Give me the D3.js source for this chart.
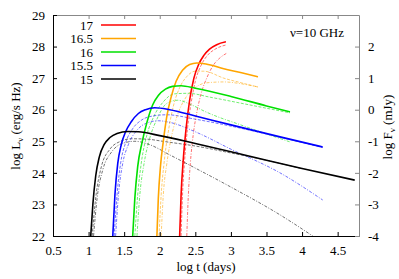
<!DOCTYPE html>
<meta charset="utf-8">
<style>
  body { margin: 0; background: #fff; }
</style>
<div id="chart"></div>
<script src="https://d3js.org/d3.v7.min.js"></script>
<script>
// legend / series labels (top to bottom)
var labels = ["17", "16.5", "16", "15.5", "15"];
var colors = ["#ff0000", "#ffa500", "#00e000", "#0000ff", "#000000"];

var xTicks = [0.5, 1, 1.5, 2, 2.5, 3, 3.5, 4, 4.5];
var yTicks = [22, 23, 24, 25, 26, 27, 28, 29];
var y2Ticks = [-4, -3, -2, -1, 0, 1, 2];

// solid curves: [log t, log L]
var solid17 = [[2.28,22],[2.3,23.3],[2.33,24.4],[2.37,25.4],[2.42,26.3],[2.48,27.0],[2.55,27.45],[2.62,27.72],[2.7,27.92],[2.8,28.06],[2.93,28.15]];
var solid165 = [[1.96,22],[1.98,23.2],[2.01,24.2],[2.05,25.0],[2.1,25.8],[2.16,26.4],[2.23,26.9],[2.32,27.25],[2.42,27.43],[2.52,27.48],[2.65,27.45],[2.9,27.3],[3.15,27.17],[3.38,27.04]];
var solid16 = [[1.62,22],[1.65,23.2],[1.69,24.2],[1.75,24.95],[1.82,25.6],[1.9,26.15],[1.98,26.45],[2.08,26.65],[2.18,26.74],[2.3,26.76],[2.5,26.68],[3.0,26.42],[3.5,26.12],[3.83,25.93]];
var solid155 = [[1.34,22],[1.37,23.3],[1.41,24.3],[1.46,24.9],[1.52,25.3],[1.6,25.62],[1.7,25.88],[1.8,26.0],[1.93,26.06],[2.14,26.0],[2.5,25.8],[3.0,25.52],[3.69,25.14],[4.29,24.82]];
var solid15 = [[1.03,22],[1.06,23],[1.1,23.9],[1.15,24.5],[1.22,24.9],[1.3,25.12],[1.4,25.25],[1.55,25.31],[1.7,25.3],[2.0,25.18],[2.5,24.93],[3.0,24.67],[3.5,24.4],[4.0,24.14],[4.74,23.77]];

// thin dashed variants
var dashA17 = [[2.3,22],[2.32,23.3],[2.35,24.4],[2.39,25.4],[2.44,26.2],[2.5,26.9],[2.58,27.4],[2.67,27.72],[2.78,27.92],[2.93,28.05]];
var dashB17 = [[2.38,22],[2.4,23.2],[2.43,24.3],[2.47,25.2],[2.52,25.9],[2.58,26.5],[2.66,27.0],[2.75,27.4],[2.85,27.65],[2.95,27.8]];
var dashA165 = [[1.99,22],[2.02,23.3],[2.06,24.3],[2.12,25.3],[2.19,26.1],[2.28,26.7],[2.38,27.05],[2.5,27.22],[2.62,27.22],[2.9,27.0],[3.15,26.85],[3.38,26.72]];
var dashB165 = [[2.02,22],[2.05,23.3],[2.1,24.3],[2.17,25.2],[2.26,25.9],[2.37,26.4],[2.5,26.7],[2.65,26.85],[2.9,26.88],[3.15,26.82],[3.38,26.72]];
var dashA16 = [[1.65,22],[1.69,23.3],[1.74,24.3],[1.82,25.2],[1.92,25.8],[2.05,26.25],[2.2,26.5],[2.4,26.52],[2.7,26.4],[3.2,26.18],[3.83,25.9]];
var dashB16 = [[1.68,22],[1.72,23.3],[1.78,24.3],[1.86,25.1],[1.96,25.7],[2.1,26.2],[2.25,26.3],[2.45,26.15],[2.63,25.95],[3.2,25.47],[3.83,24.98]];
var dashA155 = [[1.36,22],[1.4,23.3],[1.45,24.3],[1.52,24.95],[1.62,25.4],[1.75,25.68],[1.9,25.8],[2.1,25.84],[2.5,25.7],[3.0,25.48],[3.69,25.13],[4.29,24.8]];
var dashB155 = [[1.38,22],[1.42,23.3],[1.48,24.3],[1.56,24.9],[1.68,25.35],[1.82,25.58],[1.98,25.65],[2.14,25.6],[2.5,25.3],[3.0,24.75],[3.69,24.0],[4.29,23.14]];
var dashA15 = [[1.05,22],[1.1,23.2],[1.18,24.2],[1.3,24.75],[1.45,25.0],[1.6,25.08],[1.8,25.07],[2.1,24.98],[2.5,24.85],[3.0,24.63],[3.5,24.4],[4.0,24.13]];
var dashB15 = [[1.07,22],[1.12,23.2],[1.2,24.1],[1.32,24.65],[1.5,24.95],[1.65,25.0],[1.85,24.9],[2.14,24.57],[2.5,24.15],[3.0,23.55],[3.69,22.67],[4.15,22.0]];

var solids = [solid17, solid165, solid16, solid155, solid15];
var dashA = [dashA17, dashA165, dashA16, dashA155, dashA15];
var dashB = [dashB17, dashB165, dashB16, dashB155, dashB15];

var W = 399, H = 279;
var margin = {top: 15, right: 40, bottom: 43, left: 53};
var width = W - margin.left - margin.right, height = H - margin.top - margin.bottom;
var FONT = "'Liberation Serif', 'Times New Roman', serif";

var svg = d3.select("#chart").append("svg").attr("width", W).attr("height", H)
    .style("font-family", FONT).style("font-size", "13px");
var g = svg.append("g").attr("transform", "translate(" + margin.left + "," + margin.top + ")");

var x = d3.scaleLinear().domain([0.5, 4.8]).range([0, width]);
var y = d3.scaleLinear().domain([22, 29]).range([height, 0]);
var y2 = d3.scaleLinear().domain([-4, 3]).range([height, 0]);

g.append("clipPath").attr("id", "clip").append("rect").attr("width", width).attr("height", height);

var line = d3.line()
    .x(function(d) { return x(d[0]); })
    .y(function(d) { return y(d[1]); })
    .curve(d3.curveMonotoneX);

var plot = g.append("g").attr("clip-path", "url(#clip)");

// dashed first, solid on top
[dashA, dashB].forEach(function(set, k) {
    plot.selectAll(".d" + k).data(set).enter().append("path")
        .attr("d", line)
        .attr("fill", "none")
        .attr("stroke", function(d, i) { return colors[i]; })
        .attr("stroke-width", 0.8)
        .attr("stroke-opacity", 0.7)
        .attr("stroke-dasharray", k == 0 ? "3,1.5" : "3,1.5,1,1.5");
});
plot.selectAll(".s").data(solids).enter().append("path")
    .attr("d", line)
    .attr("fill", "none")
    .attr("stroke", function(d, i) { return colors[i]; })
    .attr("stroke-width", 1.6);

// axes
function styleAxis(sel, col) {
    sel.attr("font-family", null).attr("font-size", null);
    sel.select(".domain").attr("stroke", col);
    sel.selectAll(".tick line").attr("stroke", col);
    sel.selectAll("text").attr("fill", "#000").style("font-family", FONT).style("font-size", "13px");
}
var bx = g.append("g").attr("transform", "translate(0," + height + ")")
    .call(d3.axisBottom(x).tickValues(xTicks).tickFormat(d3.format("")).tickSizeInner(-4).tickSizeOuter(0).tickPadding(10));
styleAxis(bx, "#000");
var tx = g.append("g")
    .call(d3.axisTop(x).tickValues(xTicks).tickFormat("").tickSizeInner(-4).tickSizeOuter(0));
styleAxis(tx, "#888");
var ly = g.append("g")
    .call(d3.axisLeft(y).tickValues(yTicks).tickFormat(d3.format("d")).tickSizeInner(-4).tickSizeOuter(0).tickPadding(8));
styleAxis(ly, "#000");
var ry = g.append("g").attr("transform", "translate(" + width + ",0)")
    .call(d3.axisRight(y2).tickValues(y2Ticks).tickFormat(d3.format("d")).tickSizeInner(-4).tickSizeOuter(0).tickPadding(9));
styleAxis(ry, "#888");
ry.selectAll(".tick text").text(function(d) { return d < 0 ? "-" + Math.abs(d) : d; });

// axis titles
svg.append("text").attr("x", 206).attr("y", 271).attr("text-anchor", "middle").text("log t (days)");
var yl = svg.append("text").attr("transform", "translate(20,126) rotate(-90)").attr("text-anchor", "middle");
yl.append("tspan").text("log L");
yl.append("tspan").attr("dy", 3).style("font-size", "9px").text("ν");
yl.append("tspan").attr("dy", -3).text(" (erg/s Hz)");
var yr = svg.append("text").attr("transform", "translate(392,127) rotate(-90)").attr("text-anchor", "middle");
yr.append("tspan").text("log F");
yr.append("tspan").attr("dy", 3).style("font-size", "9px").text("ν");
yr.append("tspan").attr("dy", -3).text(" (mJy)");

svg.append("text").attr("x", 344).attr("y", 37).attr("text-anchor", "end").text("ν=10 GHz");

// legend
var leg = svg.append("g").selectAll("g").data(labels).enter().append("g")
    .attr("transform", function(d, i) { return "translate(0," + (25 + i * 13.5) + ")"; });
leg.append("text").attr("x", 93).attr("y", 4.5).attr("text-anchor", "end").text(function(d) { return d; });
leg.append("line").attr("x1", 101).attr("x2", 136)
    .attr("stroke", function(d, i) { return colors[i]; }).attr("stroke-width", 1.6);
</script>
